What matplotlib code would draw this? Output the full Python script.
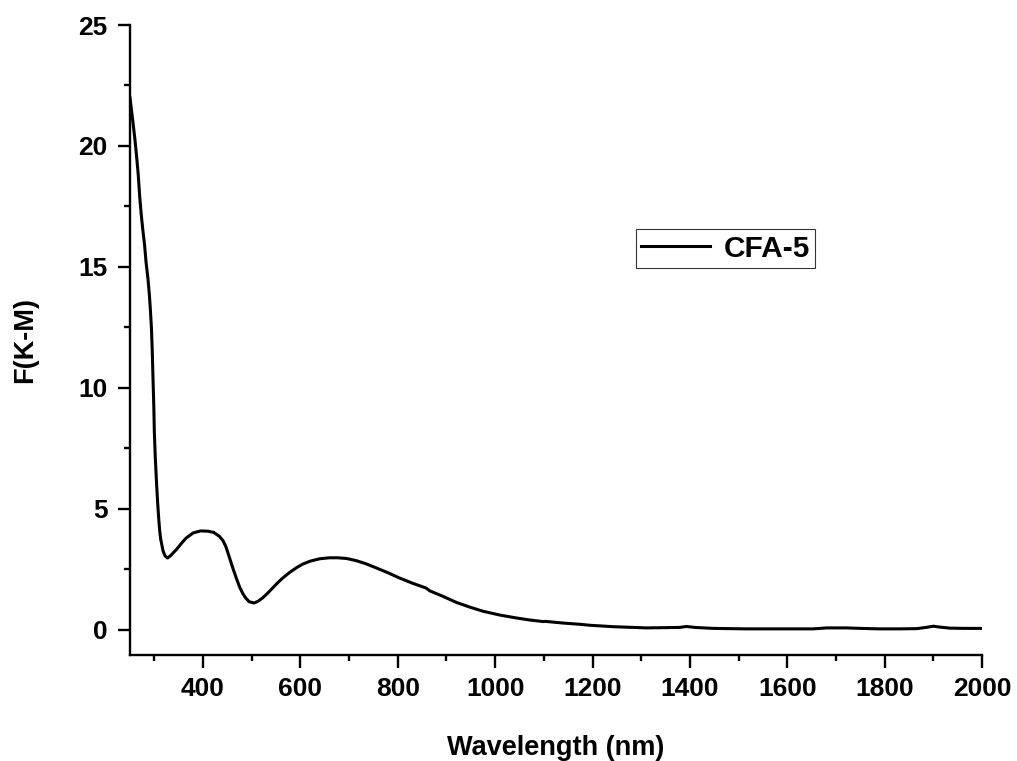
import matplotlib
matplotlib.use("Agg")
import matplotlib.pyplot as plt
from matplotlib.ticker import MultipleLocator

plt.rcParams['font.family'] = ['Liberation Sans', 'DejaVu Sans']
plt.rcParams['font.weight'] = 'bold'

# Data
wavelength = [250, 253, 256, 260, 263, 267, 270, 273, 276, 280, 283, 287, 290,
              292, 294, 296, 297, 299, 300, 302, 305, 307, 309, 311, 313, 316,
              318, 322, 327, 333, 340, 345, 355, 365, 380, 395, 410, 422, 434,
              441, 447, 454, 461, 468, 475, 482, 488, 495, 505, 513, 523, 536,
              550, 563, 577, 592, 605, 620, 640, 660, 677, 695, 715, 735, 756,
              780, 804, 830, 858, 862, 866, 890, 921, 948, 975, 1010, 1044,
              1070, 1099, 1103, 1140, 1174, 1194, 1243, 1311, 1379, 1393, 1410,
              1448, 1516, 1580, 1653, 1681, 1694, 1722, 1750, 1790, 1830, 1866,
              1885, 1900, 1915, 1934, 1965, 2000]
fkm = [22.0, 21.5, 21.0, 20.3, 19.7, 18.8, 17.9, 17.2, 16.6, 15.9, 15.2, 14.5,
       13.8, 13.2, 12.5, 11.4, 10.6, 9.2, 8.2, 7.1, 5.9, 5.2, 4.6, 4.1, 3.75,
       3.45, 3.25, 3.05, 2.96, 3.05, 3.2, 3.3, 3.55, 3.78, 4.0, 4.08, 4.07,
       4.02, 3.85, 3.68, 3.43, 3.0, 2.56, 2.15, 1.77, 1.48, 1.3, 1.15, 1.1,
       1.17, 1.32, 1.57, 1.87, 2.12, 2.35, 2.56, 2.71, 2.83, 2.93, 2.97, 2.97,
       2.94, 2.85, 2.72, 2.55, 2.35, 2.13, 1.92, 1.72, 1.66, 1.6, 1.4, 1.12,
       0.93, 0.76, 0.6, 0.48, 0.4, 0.33, 0.34, 0.27, 0.22, 0.18, 0.12, 0.07,
       0.09, 0.13, 0.09, 0.05, 0.03, 0.03, 0.03, 0.07, 0.07, 0.07, 0.05, 0.03,
       0.03, 0.04, 0.09, 0.14, 0.1, 0.06, 0.05, 0.05]

series_label = "CFA-5"
x_label = "Wavelength (nm)"
y_label = "F(K-M)"

fig = plt.figure(figsize=(10.17, 7.61), dpi=100)
ax = fig.add_axes([0.1278, 0.1393, 0.8378, 0.8278])

ax.plot(wavelength, fkm, color='black', lw=2.2, label=series_label,
        solid_joinstyle='round')

ax.set_xlim(250, 2000)
ax.set_ylim(-1.05, 25)
ax.xaxis.set_major_locator(MultipleLocator(200))
ax.xaxis.set_minor_locator(MultipleLocator(100))
ax.yaxis.set_major_locator(MultipleLocator(5))
ax.yaxis.set_minor_locator(MultipleLocator(2.5))
ax.set_xticks([400, 600, 800, 1000, 1200, 1400, 1600, 1800, 2000])

for s in ['top', 'right']:
    ax.spines[s].set_visible(False)
for s in ['left', 'bottom']:
    ax.spines[s].set_linewidth(1.7)

ax.tick_params(which='major', direction='out', length=9, width=1.7,
               labelsize=19, pad=7)
ax.tick_params(which='minor', direction='out', length=4.5, width=1.7)
for lab in ax.get_xticklabels() + ax.get_yticklabels():
    lab.set_fontweight('bold')

ax.set_xlabel(x_label, fontsize=19.5, fontweight='bold', labelpad=24)
ax.set_ylabel(y_label, fontsize=19.5, fontweight='bold', labelpad=29)

leg = ax.legend(loc='upper left', bbox_to_anchor=(0.594, 0.676),
                fontsize=21.5, frameon=True, fancybox=False, handlelength=2.3,
                borderpad=0.18, handletextpad=0.45, borderaxespad=0)
leg.get_frame().set_edgecolor('black')
leg.get_frame().set_linewidth(0.8)
for t in leg.get_texts():
    t.set_fontweight('bold')

fig.savefig("out.png", dpi=100)
